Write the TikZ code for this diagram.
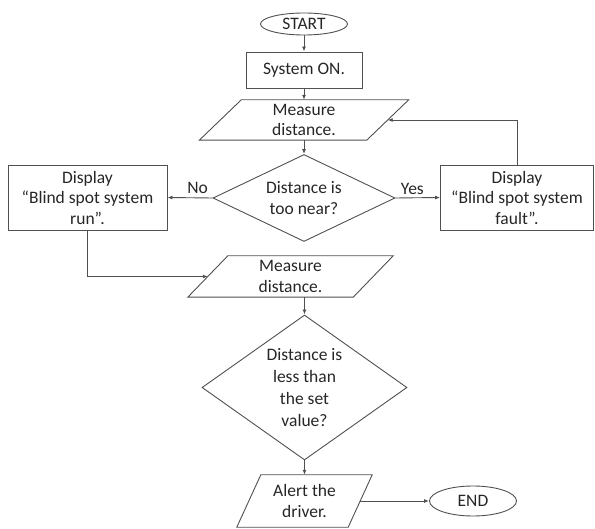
\documentclass[tikz,border=0pt]{standalone}
\usepackage{fontspec}
\setmainfont{Carlito}
\usetikzlibrary{shapes.geometric,arrows.meta,calc}
\definecolor{ln}{HTML}{505050}
\definecolor{txt}{HTML}{262626}
\newcommand\drawpara[2]{\draw[line] ($(#1.north west)+(#2/2,0)$) -- ($(#1.north east)+(#2/2,0)$) -- ($(#1.south east)-(#2/2,0)$) -- ($(#1.south west)-(#2/2,0)$) -- cycle;}
\begin{document}
\begin{tikzpicture}[x=1pt,y=-1pt,
  every node/.style={font=\fontsize{17.5}{20.5}\selectfont, text=txt, align=center, inner sep=0pt},
  line/.style={draw=ln, line width=0.9pt},
  conn/.style={line, -{Latex[length=5pt,width=4pt]}},
  term/.style={ellipse, line},
  proc/.style={rectangle, line},
  dec/.style={diamond, line},
  lbl/.style={font=\fontsize{17.5}{20.5}\selectfont}
]
\useasboundingbox (0,0) rectangle (595,529);
\node[term, minimum width=87pt, minimum height=22pt] (start) at (304,24) {START};
\node[proc, minimum width=116pt, minimum height=36pt] (sys) at (304,70) {System ON.};
\node[minimum width=167pt, minimum height=40pt] (m1) at (304,120) {Measure\\distance.};
\drawpara{m1}{42}
\node[dec, minimum width=182pt, minimum height=87pt, aspect=2] (d1) at (304,198) {Distance is\\too near?};
\node[proc, minimum width=159pt, minimum height=65pt] (lb) at (87.5,197.5) {Display\\“Blind spot system\\run”.};
\node[proc, minimum width=153pt, minimum height=65pt] (rb) at (517,197.5) {Display\\“Blind spot system\\fault”.};
\node[minimum width=165pt, minimum height=41pt] (m2) at (290.5,276.5) {Measure\\distance.};
\drawpara{m2}{40}
\node[dec, minimum width=205pt, minimum height=145pt, aspect=1.41, font=\fontsize{17.5}{22}\selectfont] (d2) at (304.5,387.5) {Distance is\\less than\\the set\\value?};
\node[minimum width=111pt, minimum height=52pt] (al) at (304.5,501) {Alert the\\driver.};
\drawpara{al}{24}
\node[term, minimum width=87pt, minimum height=30pt] (end) at (473,501) {END};

\draw[conn] (start) -- (sys);
\draw[conn] (sys) -- (m1);
\draw[conn] (m1) -- (d1);
\draw[conn] (d1.west) -- (lb.east) node[lbl, above=4pt, pos=0.33] {No};
\draw[conn] (d1.east) -- (rb.west) node[lbl, above=3pt, pos=0.38] {Yes};
\draw[conn] (rb.north) -- (rb.north |- m1.east) -- (m1.east);
\draw[conn] (lb.south) -- (lb.south |- m2.west) -- (m2.west);
\draw[conn] (m2.south -| d2.north) -- (d2.north);
\draw[conn] (d2) -- (al);
\draw[conn] (al) -- (end);
\end{tikzpicture}
\end{document}
